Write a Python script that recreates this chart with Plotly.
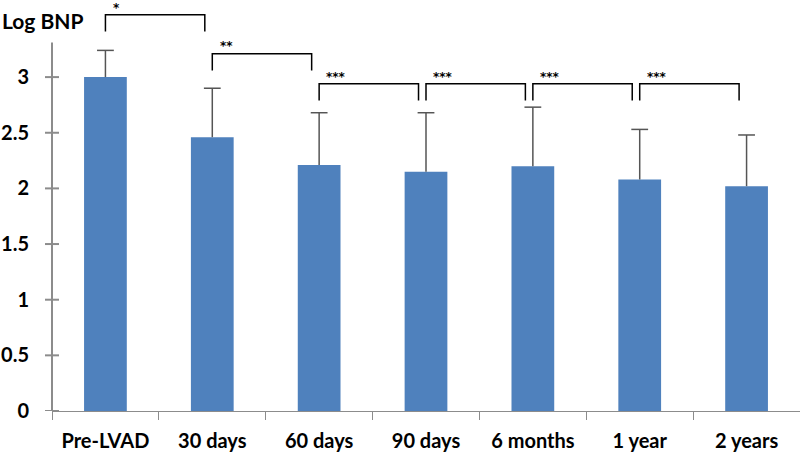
import plotly.graph_objects as go

categories = ["Pre-LVAD", "30 days", "60 days", "90 days", "6 months", "1 year", "2 years"]
log_bnp = [3.00, 2.46, 2.21, 2.15, 2.20, 2.08, 2.02]
sd_upper = [0.24, 0.44, 0.47, 0.53, 0.53, 0.45, 0.46]
y_ticks = [0, 0.5, 1, 1.5, 2, 2.5, 3]
y_tick_labels = ["0", "0.5", "1", "1.5", "2", "2.5", "3"]
comparisons = [(0, 1, "*"), (1, 2, "**"), (2, 3, "***"), (3, 4, "***"), (4, 5, "***"), (5, 6, "***")]
bracket_tops = [3.56, 3.21, 2.94, 2.94, 2.94, 2.94]

FONT = "Lato"
AX = "#8c8c8c"
ERR = "#555555"

fig = go.Figure()
fig.add_trace(go.Bar(
    x=categories, y=log_bnp, width=0.4,
    marker=dict(color="#4F81BD", line=dict(width=0)),
))

# one-sided (upper) error bars: stem + cap
ex, ey = [], []
for c, m, s in zip(categories, log_bnp, sd_upper):
    ex += [c, c, None]
    ey += [m, m + s, None]
fig.add_trace(go.Scatter(x=ex, y=ey, mode="lines", line=dict(color=ERR, width=1.5),
                         hoverinfo="skip"))
fig.add_trace(go.Scatter(x=categories, y=[m + s for m, s in zip(log_bnp, sd_upper)],
                         mode="markers",
                         marker=dict(symbol="line-ew", size=12, line=dict(color=ERR, width=1.5)),
                         hoverinfo="skip"))

shapes = []
# y axis line and crossing ticks
shapes.append(dict(type="line", xref="paper", yref="y", x0=0, x1=0, y0=-0.065, y1=3.31,
                   line=dict(color=AX, width=2)))
for t in y_ticks:
    shapes.append(dict(type="line", xref="paper", yref="y", x0=-7 / 748, x1=7 / 748, y0=t, y1=t,
                       line=dict(color=AX, width=2)))

annotations = []
for (i, j, lab), top in zip(comparisons, bracket_tops):
    leg = top - 0.15
    xl, xr = i + 0.0, j - 0.07
    shapes.append(dict(type="path", xref="x", yref="y",
                       path=f"M {xl},{leg} L {xl},{top} L {xr},{top} L {xr},{leg}",
                       line=dict(color="#000000", width=1.5)))
    annotations.append(dict(x=i + 0.05, y=top + 0.065, xref="x", yref="y", text=f"<b>{lab}</b>",
                            showarrow=False, xanchor="left", yanchor="middle",
                            font=dict(family="DejaVu Sans", size=12, color="#000000")))

annotations.append(dict(x=-52 / 748, y=1 - 20 / 411, xref="paper", yref="paper", text="<b>Log BNP</b>",
                        showarrow=False, xanchor="left", yanchor="middle",
                        font=dict(family=FONT, size=21, color="#000000")))

fig.update_layout(
    width=800, height=453,
    margin=dict(l=52, r=0, t=0, b=42),
    plot_bgcolor="white", paper_bgcolor="white",
    showlegend=False,
    shapes=shapes, annotations=annotations,
    xaxis=dict(type="category", showline=True, linecolor=AX, linewidth=1, automargin=False,
               ticks="outside", tickson="boundaries", ticklen=8, tickcolor=AX, tickwidth=1,
               ticklabelstandoff=12,
               tickfont=dict(family=FONT, size=20, color="#000000", weight="bold"),
               showgrid=False, zeroline=False),
    yaxis=dict(range=[0, 411 / 111.3], tickvals=y_ticks, ticktext=y_tick_labels,
               showline=False, ticks="", showgrid=False, zeroline=False, automargin=False,
               ticklabelstandoff=22,
               tickfont=dict(family=FONT, size=20, color="#000000", weight="bold")),
)

fig.write_html("out.html", post_script="document.body.style.margin='0';",
               config={"displayModeBar": False})
